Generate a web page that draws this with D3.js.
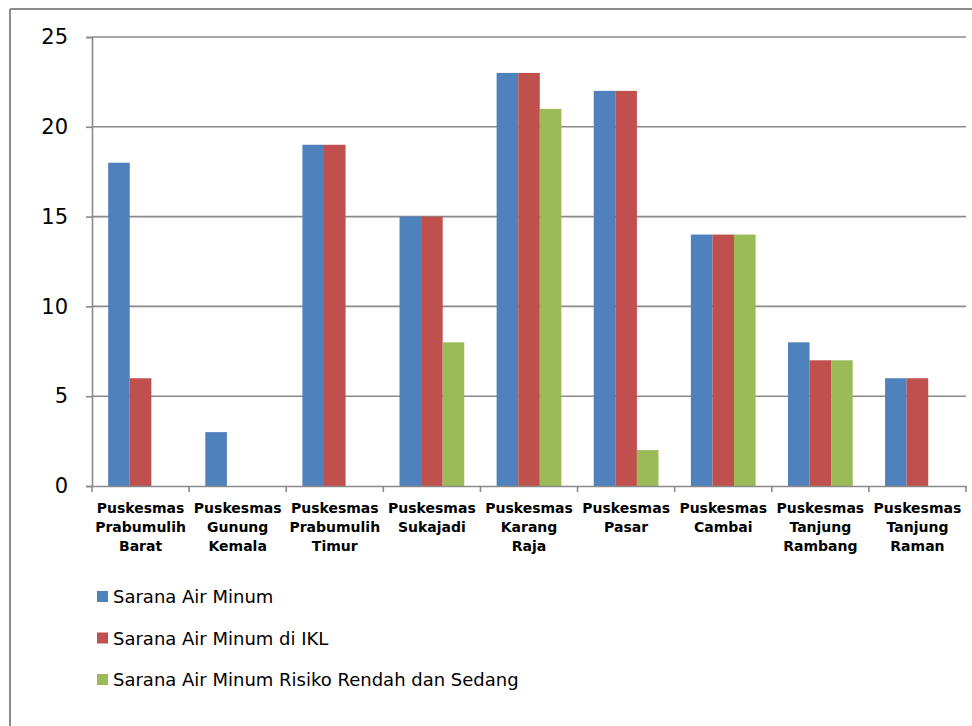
<!DOCTYPE html>
<html>
<head>
<meta charset="utf-8">
<script src="https://cdn.jsdelivr.net/npm/d3@7"></script>
<style>
  html, body { margin: 0; padding: 0; background: #fff; }
  svg { display: block; font-family: "DejaVu Sans", Verdana, sans-serif; }
</style>
</head>
<body>
<svg id="chart" width="972" height="726"></svg>
<script>
// Puskesmas (health centre) names, one per category
const categories = [
  ["Puskesmas", "Prabumulih", "Barat"],
  ["Puskesmas", "Gunung", "Kemala"],
  ["Puskesmas", "Prabumulih", "Timur"],
  ["Puskesmas", "Sukajadi"],
  ["Puskesmas", "Karang", "Raja"],
  ["Puskesmas", "Pasar"],
  ["Puskesmas", "Cambai"],
  ["Puskesmas", "Tanjung", "Rambang"],
  ["Puskesmas", "Tanjung", "Raman"]
];

const seriesNames = [
  "Sarana Air Minum",
  "Sarana Air Minum di IKL",
  "Sarana Air Minum Risiko Rendah dan Sedang"
];

const saranaAirMinum      = [18, 3, 19, 15, 23, 22, 14, 8, 6];
const saranaAirMinumIKL   = [6, 0, 19, 15, 23, 22, 14, 7, 6];
const saranaRisikoRendah  = [0, 0, 0, 8, 21, 2, 14, 7, 0];

const yTicks = [0, 5, 10, 15, 20, 25];
const colors = ["#4F81BD", "#C0504D", "#9BBB59"];

const allSeries = [saranaAirMinum, saranaAirMinumIKL, saranaRisikoRendah];

const svg = d3.select("#chart");

// outer frame (left and top edges only are within view)
svg.append("line").attr("x1", 10).attr("y1", 9).attr("x2", 972).attr("y2", 9)
  .attr("stroke", "#8c8c8c").attr("stroke-width", 2);
svg.append("line").attr("x1", 10).attr("y1", 9).attr("x2", 10).attr("y2", 726)
  .attr("stroke", "#8c8c8c").attr("stroke-width", 2);

const plot = { left: 92, right: 966, top: 37, bottom: 486 };

const x0 = d3.scaleBand()
  .domain(d3.range(categories.length))
  .range([plot.left, plot.right])
  .paddingInner(0).paddingOuter(0);

const bandW = x0.bandwidth();
const barW = bandW / 4.5; // 150% gap between groups
const x1 = d3.scaleBand()
  .domain(d3.range(allSeries.length))
  .range([0, barW * 3]);

const y = d3.scaleLinear().domain([0, 25]).range([plot.bottom, plot.top]);

// gridlines
svg.append("g").selectAll("line")
  .data(yTicks.filter(t => t > 0))
  .join("line")
  .attr("x1", plot.left).attr("x2", plot.right)
  .attr("y1", d => y(d)).attr("y2", d => y(d))
  .attr("stroke", "#8a8a8a").attr("stroke-width", 1.6);

// bars
const groups = svg.append("g").selectAll("g")
  .data(categories.map((c, i) => i))
  .join("g")
  .attr("transform", i => `translate(${x0(i) + (bandW - barW * 3) / 2},0)`);

groups.selectAll("rect")
  .data(i => allSeries.map((s, k) => ({ k, v: s[i] })).filter(d => d.v > 0))
  .join("rect")
  .attr("x", d => x1(d.k))
  .attr("width", x1.bandwidth())
  .attr("y", d => y(d.v))
  .attr("height", d => y(0) - y(d.v))
  .attr("fill", d => colors[d.k]);

// y axis
const yAxis = d3.axisLeft(y).tickValues(yTicks).tickSize(6).tickPadding(18);
const gy = svg.append("g").attr("transform", `translate(${plot.left},0)`).call(yAxis);
gy.select(".domain").attr("stroke", "#8a8a8a").attr("stroke-width", 1.6);
gy.selectAll(".tick line").attr("stroke", "#8a8a8a").attr("stroke-width", 1.6);
gy.selectAll(".tick text").attr("font-size", 21).attr("fill", "#000")
  .attr("font-family", "'DejaVu Sans', Verdana, sans-serif");

// x axis
const xAxis = d3.axisBottom(x0).tickValues([]).tickSizeOuter(0);
const gx = svg.append("g").attr("transform", `translate(0,${plot.bottom})`).call(xAxis);
gx.select(".domain").attr("stroke", "#8a8a8a").attr("stroke-width", 1.6);
gx.append("g").selectAll("line")
  .data(d3.range(categories.length + 1))
  .join("line")
  .attr("x1", i => plot.left + i * bandW).attr("x2", i => plot.left + i * bandW)
  .attr("y1", 0).attr("y2", 6)
  .attr("stroke", "#8a8a8a").attr("stroke-width", 1.6);

// category labels
const labels = svg.append("g").selectAll("text")
  .data(categories)
  .join("text")
  .attr("text-anchor", "middle")
  .attr("font-size", 14)
  .attr("font-weight", "bold")
  .attr("fill", "#000")
  .attr("transform", (d, i) => `translate(${x0(i) + bandW / 2},${plot.bottom + 27})`);
labels.selectAll("tspan")
  .data(d => d)
  .join("tspan")
  .attr("x", 0)
  .attr("dy", (d, j) => j === 0 ? 0 : 19)
  .text(d => d);

// legend
const legend = svg.append("g").selectAll("g")
  .data(seriesNames)
  .join("g")
  .attr("transform", (d, i) => `translate(97,${597 + i * 41.5})`);
legend.append("rect")
  .attr("x", 0).attr("y", -6).attr("width", 11).attr("height", 11)
  .attr("fill", (d, i) => colors[i]);
legend.append("text")
  .attr("x", 16).attr("y", 0).attr("dy", "0.35em")
  .attr("font-size", 18).attr("fill", "#000")
  .text(d => d);
</script>
</body>
</html>
